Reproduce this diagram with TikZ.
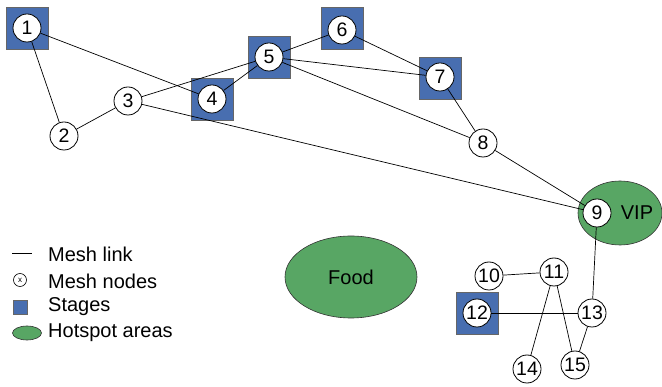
\documentclass[tikz,border=0pt]{standalone}
\usepackage{fontspec}
\setmainfont{Liberation Sans}
\usepackage{xcolor}
\usetikzlibrary{shapes.geometric}

\definecolor{stageblue}{RGB}{72,110,176}
\definecolor{hotgreen}{RGB}{88,166,100}

\tikzset{
    mesh/.style={circle, draw, fill=white, line width=0.8pt, minimum size=28pt, inner sep=0pt, font=\fontsize{19.5}{21}\selectfont},
    stage/.style={rectangle, draw=gray!80!black, fill=stageblue, line width=0.6pt, minimum size=42pt, inner sep=0pt},
    hotspot/.style={ellipse, draw=black!80, fill=hotgreen, line width=0.6pt, inner sep=0pt},
    link/.style={line width=0.7pt},
    legend/.style={anchor=west, inner sep=0pt, font=\fontsize{20}{22}\selectfont}
}

\begin{document}
\begin{tikzpicture}[x=1pt, y=-1pt]
    \useasboundingbox (0,0) rectangle (662,387);

    % hotspot areas
    \node[hotspot, minimum width=84pt, minimum height=64pt] (vip) at (620,213) {};
    \node[hotspot, minimum width=132pt, minimum height=82pt, font=\fontsize{20}{22}\selectfont] (food) at (351,277) {Food};

    % stages
    \node[stage] (s1) at (27,28) {};
    \node[stage] (s4) at (212,99) {};
    \node[stage] (s5) at (269,57) {};
    \node[stage] (s6) at (342,28) {};
    \node[stage] (s7) at (440,78) {};
    \node[stage] (s12) at (477,313) {};

    % mesh nodes
    \node[mesh] (n1) at (27,28) {1};
    \node[mesh] (n2) at (64,136) {2};
    \node[mesh] (n3) at (128,101) {3};
    \node[mesh] (n4) at (212,99) {4};
    \node[mesh] (n5) at (269,57) {5};
    \node[mesh] (n6) at (342,30) {6};
    \node[mesh] (n7) at (440,77) {7};
    \node[mesh] (n8) at (483,143) {8};
    \node[mesh] (n9) at (597,213) {9};
    \node[mesh] (n10) at (489,276) {10};
    \node[mesh] (n11) at (554,272) {11};
    \node[mesh] (n12) at (477,313) {12};
    \node[mesh] (n13) at (592,313) {13};
    \node[mesh] (n14) at (527,369) {14};
    \node[mesh] (n15) at (575,365) {15};
    \node[font=\fontsize{20}{22}\selectfont] (viptext) at (637,213) {VIP};

    % mesh links
    \draw[link] (n1) -- (n2);
    \draw[link] (n1) -- (n4);
    \draw[link] (n2) -- (n3);
    \draw[link] (n3) -- (n5);
    \draw[link] (n3) -- (n9);
    \draw[link] (n4) -- (n5);
    \draw[link] (n5) -- (n6);
    \draw[link] (n5) -- (n7);
    \draw[link] (n5) -- (n8);
    \draw[link] (n6) -- (n7);
    \draw[link] (n7) -- (n8);
    \draw[link] (n8) -- (n9);
    \draw[link] (n9) -- (n13);
    \draw[link] (n10) -- (n11);
    \draw[link] (n11) -- (n14);
    \draw[link] (n11) -- (n15);
    \draw[link] (n12) -- (n13);
    \draw[link] (n13) -- (n15);

    % legend
    \coordinate (la) at (12,253);
    \coordinate (lb) at (32,253);
    \draw[line width=0.6pt] (la) -- (lb);
    \node[legend] (tlink) at (48,254) {Mesh link};
    \node[circle, draw, line width=0.6pt, minimum size=13pt, inner sep=0pt, font=\fontsize{8}{8}\selectfont] (lnode) at (20,280) {x};
    \node[legend] (tnode) at (48,281) {Mesh nodes};
    \node[rectangle, draw=gray!80!black, fill=stageblue, line width=0.5pt, minimum size=14pt, inner sep=0pt] (lstage) at (20,307) {};
    \node[legend] (tstage) at (48,307) {Stages};
    \node[hotspot, minimum width=29pt, minimum height=14pt] (lhot) at (27,333) {};
    \node[legend] (thot) at (48,333) {Hotspot areas};
\end{tikzpicture}
\end{document}
